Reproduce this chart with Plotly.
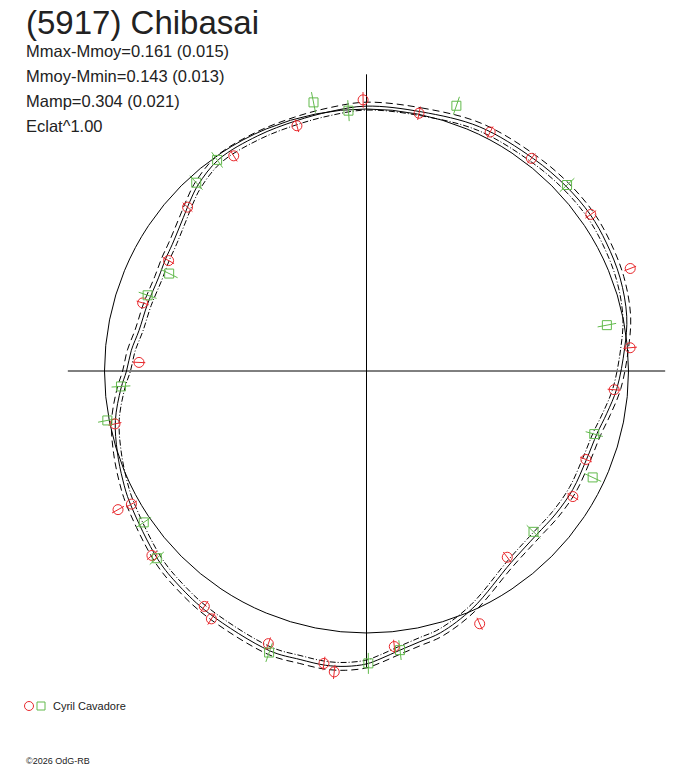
import numpy as np
import plotly.graph_objects as go

# ---------------- data ----------------
title = "(5917) Chibasai"
stats_lines = ["Mmax-Mmoy=0.161 (0.015)", "Mmoy-Mmin=0.143 (0.013)",
               "Mamp=0.304 (0.021)", "Eclat^1.00"]
observer = "Cyril Cavadore"
credit = "\u00a92026 OdG-RB"

# observer set 1 (red circles): rotational phase, relative flux, flux error
red_phase = [0.998, 0.032, 0.076, 0.105, 0.153, 0.191, 0.236, 0.262, 0.311, 0.337,
             0.397, 0.433, 0.484, 0.517, 0.523, 0.555, 0.589, 0.596, 0.637, 0.668,
             0.669, 0.717, 0.756, 0.797, 0.831, 0.868, 0.912, 0.956]
red_flux = [1.035, 1.004, 1.027, 1.027, 1.044, 1.080, 1.010, 0.948, 0.903, 0.922,
            0.891, 1.057, 1.057, 1.155, 1.128, 1.106, 1.116, 1.091, 1.080, 1.031,
            1.086, 0.981, 0.869, 0.893, 0.865, 0.926, 0.965, 0.973]
red_err = [0.030, 0.026, 0.024, 0.024, 0.025, 0.024, 0.026, 0.025, 0.024, 0.024,
           0.025, 0.025, 0.026, 0.027, 0.026, 0.025, 0.026, 0.025, 0.025, 0.024,
           0.026, 0.025, 0.024, 0.024, 0.024, 0.025, 0.025, 0.025]

# observer set 2 (green squares)
green_phase = [0.052, 0.131, 0.220, 0.293, 0.320, 0.372, 0.481, 0.499, 0.553, 0.634,
               0.655, 0.720, 0.740, 0.803, 0.823, 0.883, 0.902, 0.969, 0.989]
green_flux = [1.069, 1.044, 0.934, 0.902, 0.954, 0.885, 1.073, 1.116, 1.137, 1.073,
              1.028, 1.007, 0.939, 0.884, 0.840, 0.969, 0.987, 1.045, 0.996]
green_err = [0.036, 0.038, 0.036, 0.034, 0.036, 0.036, 0.038, 0.040, 0.038, 0.036,
             0.034, 0.036, 0.036, 0.036, 0.036, 0.036, 0.036, 0.040, 0.040]

# fitted light curve (relative flux vs phase) and its uncertainty envelope
fit_phase = [0.000, 0.033, 0.069, 0.106, 0.131, 0.153, 0.172, 0.194, 0.217, 0.236,
             0.261, 0.278, 0.292, 0.311, 0.333, 0.353, 0.372, 0.397, 0.433,
             0.456, 0.469, 0.481, 0.492, 0.500, 0.511, 0.522, 0.536, 0.553, 0.592,
             0.614, 0.633, 0.669, 0.683, 0.700, 0.719, 0.739, 0.750, 0.764, 0.778,
             0.797, 0.817, 0.831, 0.842, 0.861, 0.872, 0.883, 0.903, 0.931, 0.956,
             0.978]
fit_flux = [1.011, 1.011, 1.027, 1.031, 1.038, 1.042, 1.038, 1.031, 1.015, 0.989,
            0.958, 0.931, 0.912, 0.905, 0.908, 0.905, 0.901, 0.916, 0.992,
            1.038, 1.053, 1.073, 1.099, 1.118, 1.130, 1.134, 1.130, 1.130, 1.103,
            1.088, 1.073, 1.034, 1.019, 1.000, 0.977, 0.939, 0.916, 0.901, 0.882,
            0.874, 0.870, 0.878, 0.885, 0.912, 0.935, 0.958, 0.985, 0.989, 0.992,
            1.000]
fit_sigma = 0.015

mean_flux = 1.0      # reference circle
axis_extent = 1.14   # half-length of the cross axes

# ---------------- styling ----------------
W, H = 688, 768
CX, CY = 366.5, 371.0      # pixel position of the pole
SCALE = 262.0              # pixels per unit relative flux
RED = "#e8282c"
GREEN = "#62ba4c"
INK = "#000000"
TEXT = "#222222"
FONT = "Liberation Sans, Arial, sans-serif"


def polar_xy(phase, flux):
    a = 2 * np.pi * np.asarray(phase, dtype=float)
    f = np.asarray(flux, dtype=float)
    return f * np.sin(a), f * np.cos(a)


def err_segments(phase, flux, err):
    xs, ys = [], []
    for p, f, e in zip(phase, flux, err):
        x0, y0 = polar_xy([p], [f - e])
        x1, y1 = polar_xy([p], [f + e])
        xs += [x0[0], x1[0], None]
        ys += [y0[0], y1[0], None]
    return xs, ys


fig = go.Figure()

# fit curves (closed loops)
cp = fit_phase + [fit_phase[0] + 1.0]
cf = fit_flux + [fit_flux[0]]
for offset, dash in [(fit_sigma, "7px,4px"), (-fit_sigma, "6px,2px,1px,2px"), (0.0, "solid")]:
    x, y = polar_xy(cp, np.array(cf) + offset)
    fig.add_trace(go.Scatter(x=x, y=y, mode="lines",
                             line=dict(color=INK, width=1, dash=dash, shape="spline", smoothing=1.0),
                             hoverinfo="skip", showlegend=False))

# error bars
ex, ey = err_segments(red_phase, red_flux, red_err)
fig.add_trace(go.Scatter(x=ex, y=ey, mode="lines", line=dict(color=RED, width=1),
                         hoverinfo="skip", showlegend=False))
ex, ey = err_segments(green_phase, green_flux, green_err)
fig.add_trace(go.Scatter(x=ex, y=ey, mode="lines", line=dict(color=GREEN, width=1),
                         hoverinfo="skip", showlegend=False))

# points
x, y = polar_xy(red_phase, red_flux)
fig.add_trace(go.Scatter(x=x, y=y, mode="markers",
                         marker=dict(symbol="circle-open", size=10, color=RED, line=dict(width=1)),
                         showlegend=False))
x, y = polar_xy(green_phase, green_flux)
fig.add_trace(go.Scatter(x=x, y=y, mode="markers",
                         marker=dict(symbol="square-open", size=9, color=GREEN, line=dict(width=1)),
                         showlegend=False))

shapes = [
    dict(type="circle", xref="x", yref="y", x0=-mean_flux, y0=-mean_flux,
         x1=mean_flux, y1=mean_flux, line=dict(color=INK, width=1), layer="below"),
    dict(type="line", xref="x", yref="y", x0=-axis_extent, x1=axis_extent, y0=0, y1=0,
         line=dict(color=INK, width=1), layer="below"),
    dict(type="line", xref="x", yref="y", x0=0, x1=0, y0=-axis_extent * 297 / 299,
         y1=axis_extent * 297 / 299, line=dict(color=INK, width=1), layer="below"),
    # legend symbols
    dict(type="circle", xref="paper", yref="paper", x0=24.5 / W, x1=33.5 / W,
         y0=1 - 710.5 / H, y1=1 - 701.5 / H, line=dict(color=RED, width=1)),
    dict(type="rect", xref="paper", yref="paper", x0=37 / W, x1=45 / W,
         y0=1 - 710 / H, y1=1 - 702 / H, line=dict(color=GREEN, width=1)),
]


def px_ann(text, px, py, size, color=TEXT):
    return dict(text=text, xref="paper", yref="paper", x=px / W, y=1 - py / H,
                xanchor="left", yanchor="middle", showarrow=False,
                font=dict(family=FONT, size=size, color=color), borderpad=0)


annotations = [px_ann(title, 25, 22, 33)]
for i, s in enumerate(stats_lines):
    annotations.append(px_ann(s, 25, 51 + 25 * i, 16.5))
annotations.append(px_ann(observer, 52, 706, 11))
annotations.append(px_ann(credit, 25, 761, 9))

fig.update_layout(
    width=W, height=H, autosize=False,
    margin=dict(l=0, r=0, t=0, b=0, pad=0),
    paper_bgcolor="white", plot_bgcolor="white",
    xaxis=dict(range=[-CX / SCALE, (W - CX) / SCALE], visible=False, fixedrange=True),
    yaxis=dict(range=[(CY - H) / SCALE, CY / SCALE], visible=False, fixedrange=True),
    shapes=shapes, annotations=annotations, showlegend=False,
)

fig.write_html("out.html", config={"displayModeBar": False},
               post_script="document.body.style.margin='0px';document.body.style.overflow='hidden';")
